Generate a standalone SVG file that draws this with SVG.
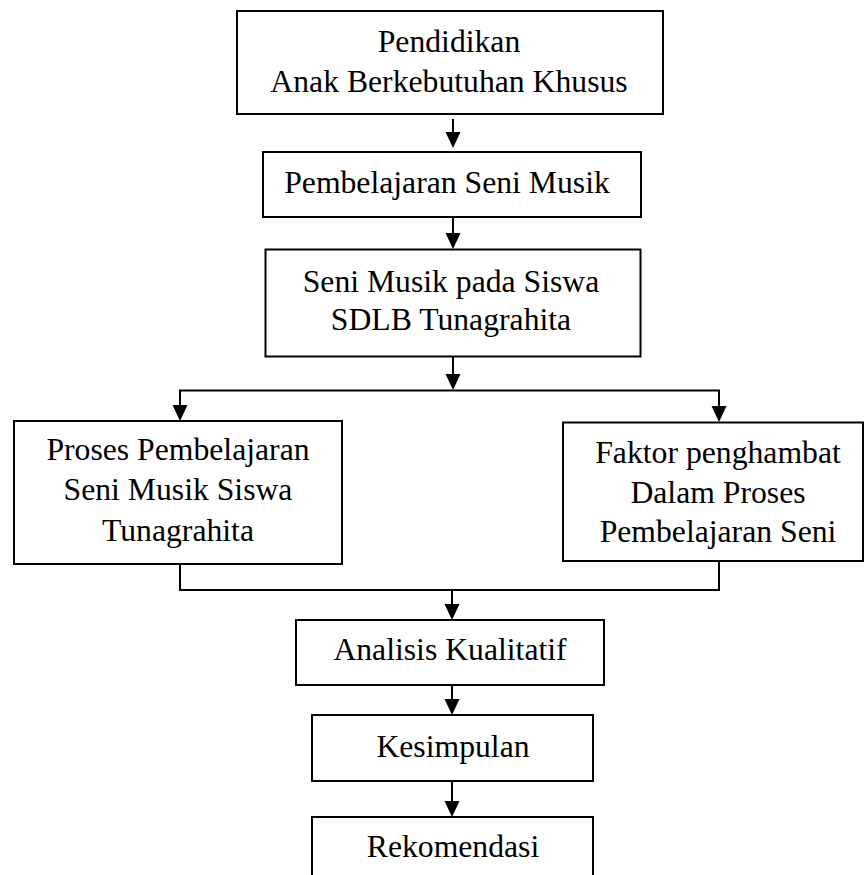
<svg xmlns="http://www.w3.org/2000/svg" width="865" height="875" viewBox="0 0 865 875">
<style>
.box{fill:#fff;stroke:#000;stroke-width:2}
.t{font-family:"Liberation Serif","Times New Roman",serif;font-size:31.7px;fill:#000;text-anchor:middle}
.c{fill:none;stroke:#000;stroke-width:2}
.h{fill:#000}
</style>
<rect width="865" height="875" fill="#fff"/>
<g id="connectors">
<line class="c" x1="453" y1="119" x2="453" y2="134"/>
<path class="h" d="M445.5,132 L460.5,132 L453,148 Z"/>
<line class="c" x1="453" y1="217" x2="453" y2="235"/>
<path class="h" d="M445.5,233 L460.5,233 L453,249 Z"/>
<line class="c" x1="453" y1="357" x2="453" y2="376"/>
<path class="h" d="M445.5,374 L460.5,374 L453,390 Z"/>
<polyline class="c" points="180,407 180,390.5 719,390.5 719,408"/>
<path class="h" d="M172.5,405 L187.5,405 L180,421 Z"/>
<path class="h" d="M711.5,406 L726.5,406 L719,422 Z"/>
<polyline class="c" points="180,564 180,590 719,590 719,561"/>
<line class="c" x1="452" y1="590" x2="452" y2="606"/>
<path class="h" d="M444.5,604 L459.5,604 L452,620 Z"/>
<line class="c" x1="452" y1="685" x2="452" y2="701"/>
<path class="h" d="M444.5,699 L459.5,699 L452,715 Z"/>
<line class="c" x1="452" y1="781" x2="452" y2="803"/>
<path class="h" d="M444.5,801 L459.5,801 L452,817 Z"/>
</g>
<g id="n1">
<rect class="box" x="237" y="11" width="426" height="103"/>
<text class="t" x="449" y="52">Pendidikan</text>
<text class="t" x="449" y="92">Anak Berkebutuhan Khusus</text>
</g>
<g id="n2">
<rect class="box" x="263" y="152" width="378" height="65"/>
<text class="t" x="447" y="193">Pembelajaran Seni Musik</text>
</g>
<g id="n3">
<rect class="box" x="265.5" y="249.5" width="375" height="107"/>
<text class="t" x="451" y="292">Seni Musik pada Siswa</text>
<text class="t" x="451" y="330">SDLB Tunagrahita</text>
</g>
<g id="n4">
<rect class="box" x="14" y="421" width="328" height="143"/>
<text class="t" x="178" y="460">Proses Pembelajaran</text>
<text class="t" x="178" y="500">Seni Musik Siswa</text>
<text class="t" x="178" y="541">Tunagrahita</text>
</g>
<g id="n5">
<rect class="box" x="563" y="422.5" width="300" height="138.5"/>
<text class="t" x="718" y="463">Faktor penghambat</text>
<text class="t" x="718" y="502.5">Dalam Proses</text>
<text class="t" x="718" y="541.5">Pembelajaran Seni</text>
</g>
<g id="n6">
<rect class="box" x="296" y="620" width="308" height="65"/>
<text class="t" x="450" y="660">Analisis Kualitatif</text>
</g>
<g id="n7">
<rect class="box" x="312" y="715" width="281" height="66"/>
<text class="t" x="453" y="757">Kesimpulan</text>
</g>
<g id="n8">
<rect class="box" x="312" y="817" width="281" height="70"/>
<text class="t" x="453" y="857">Rekomendasi</text>
</g>
</svg>
